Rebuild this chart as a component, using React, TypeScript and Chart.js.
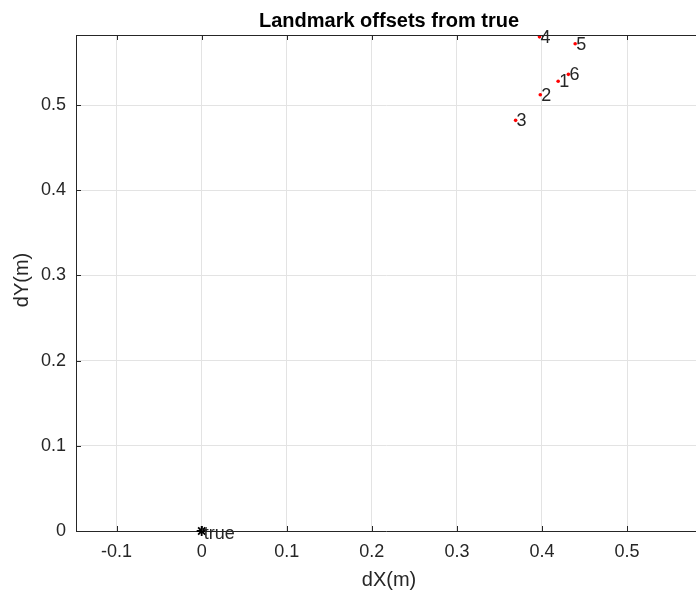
import React, { useEffect, useRef } from "react";
import { Chart, registerables } from "chart.js";

Chart.register(...registerables);

// ---- data ----
const landmarkLabels = ["1", "2", "3", "4", "5", "6"];
const landmarkDX = [0.419, 0.398, 0.369, 0.397, 0.439, 0.431];
const landmarkDY = [0.528, 0.512, 0.482, 0.58, 0.572, 0.536];
const trueLabels = ["true"];
const trueDX = [0];
const trueDY = [0];
const xTickValues = [-0.1, 0, 0.1, 0.2, 0.3, 0.4, 0.5];
const yTickValues = [0, 0.1, 0.2, 0.3, 0.4, 0.5];
const titleText = "Landmark offsets from true";
const xAxisTitle = "dX(m)";
const yAxisTitle = "dY(m)";

const FONT = "'Liberation Sans', Arial, Helvetica, sans-serif";
const AXIS_COLOR = "#262626";
const GRID_COLOR = "#e3e3e3";

const fmt = (v: number) => String(Math.round(v * 10) / 10);

const decorPlugin = {
  id: "decor",
  afterDraw(chart: any) {
    const ctx = chart.ctx as CanvasRenderingContext2D;
    const area = chart.chartArea;
    const xs = chart.scales.x;
    const ys = chart.scales.y;
    ctx.save();
    // top box line
    ctx.strokeStyle = AXIS_COLOR;
    ctx.lineWidth = 1;
    ctx.beginPath();
    ctx.moveTo(area.left, area.top + 0.5);
    ctx.lineTo(area.right, area.top + 0.5);
    ctx.stroke();
    // inward tick marks
    const tl = 5;
    ctx.beginPath();
    xTickValues.forEach((v) => {
      const px = Math.round(xs.getPixelForValue(v)) + 0.5;
      ctx.moveTo(px, area.bottom);
      ctx.lineTo(px, area.bottom - tl);
      ctx.moveTo(px, area.top);
      ctx.lineTo(px, area.top + tl);
    });
    yTickValues.forEach((v) => {
      const py = Math.round(ys.getPixelForValue(v)) + 0.5;
      ctx.moveTo(area.left, py);
      ctx.lineTo(area.left + tl, py);
    });
    ctx.stroke();

    // point labels
    ctx.fillStyle = AXIS_COLOR;
    ctx.font = `18px ${FONT}`;
    ctx.textAlign = "left";
    ctx.textBaseline = "middle";
    const drawLabels = (dsIndex: number, labels: string[], dx: number, dy: number) => {
      const meta = chart.getDatasetMeta(dsIndex);
      meta.data.forEach((el: any, i: number) => {
        ctx.fillText(labels[i], el.x + dx, el.y + dy);
      });
    };
    drawLabels(0, landmarkLabels, 1, 1);
    drawLabels(1, trueLabels, 2, 3);

    // title
    ctx.fillStyle = "#000000";
    ctx.font = `bold 20px ${FONT}`;
    ctx.textAlign = "center";
    ctx.textBaseline = "alphabetic";
    ctx.fillText(titleText, 389, 27);

    // axis titles
    ctx.fillStyle = AXIS_COLOR;
    ctx.font = `20px ${FONT}`;
    ctx.fillText(xAxisTitle, 389, 586);
    ctx.translate(28, 280);
    ctx.rotate(-Math.PI / 2);
    ctx.fillText(yAxisTitle, 0, 0);
    ctx.restore();
  },
};

export default function App() {
  const ref = useRef<HTMLCanvasElement | null>(null);
  useEffect(() => {
    if (!ref.current) return;
    const chart = new Chart(ref.current, {
      type: "scatter",
      data: {
        datasets: [
          {
            label: "landmarks",
            data: landmarkDX.map((x, i) => ({ x, y: landmarkDY[i] })),
            pointRadius: 1.8,
            pointBackgroundColor: "#ff0000",
            pointBorderColor: "#ff0000",
            pointBorderWidth: 0,
            clip: false,
          },
          {
            label: "true",
            data: trueDX.map((x, i) => ({ x, y: trueDY[i] })),
            pointStyle: "star",
            pointRadius: 5,
            pointBorderColor: "#000000",
            pointBackgroundColor: "#000000",
            pointBorderWidth: 1.8,
            clip: false,
          },
        ],
      },
      options: {
        responsive: false,
        animation: false,
        layout: { autoPadding: false, padding: { left: 0, right: 0, top: 35, bottom: 0 } },
        plugins: {
          legend: { display: false },
          title: { display: false },
          tooltip: { enabled: false },
        },
        scales: {
          x: {
            type: "linear",
            min: -0.1477,
            max: 0.581,
            afterBuildTicks: (s: any) => {
              s.ticks = xTickValues.map((v) => ({ value: v }));
            },
            afterFit: (s: any) => {
              s.height = 60;
              s.paddingLeft = 0;
              s.paddingRight = 0;
            },
            grid: { color: GRID_COLOR, drawTicks: false, lineWidth: 1 },
            border: { color: AXIS_COLOR, width: 1 },
            ticks: {
              padding: 10,
              color: AXIS_COLOR,
              font: { family: FONT, size: 18 },
              maxRotation: 0,
              callback: (v: any) => fmt(Number(v)),
            },
          },
          y: {
            type: "linear",
            min: 0,
            max: 0.5822,
            afterBuildTicks: (s: any) => {
              s.ticks = yTickValues.map((v) => ({ value: v }));
            },
            afterFit: (s: any) => {
              s.width = 76;
              s.paddingTop = 0;
              s.paddingBottom = 0;
            },
            grid: { color: GRID_COLOR, drawTicks: false, lineWidth: 1 },
            border: { color: AXIS_COLOR, width: 1 },
            ticks: {
              padding: 10,
              color: AXIS_COLOR,
              font: { family: FONT, size: 18 },
              callback: (v: any) => fmt(Number(v)),
            },
          },
        },
      },
      plugins: [decorPlugin],
    } as any);
    return () => chart.destroy();
  }, []);
  return (
    <div style={{ position: "absolute", left: 0, top: 0, width: 696, height: 591, background: "#ffffff" }}>
      <canvas ref={ref} width={696} height={591} style={{ display: "block" }} />
    </div>
  );
}
